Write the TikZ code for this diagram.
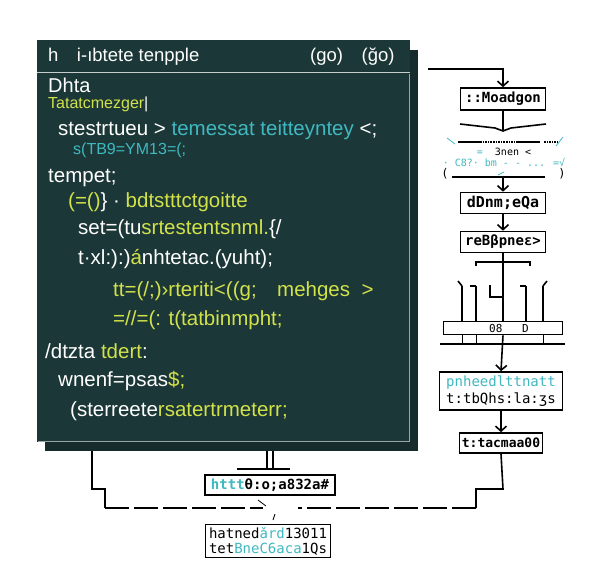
\documentclass[tikz,border=0pt]{standalone}
\usepackage{fontspec}
\setmainfont{DejaVu Sans}
\newfontfamily\codefont{Liberation Sans}
\newfontfamily\boxfont{DejaVu Sans Mono}
\usetikzlibrary{calc,arrows.meta}

\definecolor{panel}{HTML}{1C3737}
\definecolor{lime}{HTML}{D2E24A}
\definecolor{aqua}{HTML}{3FB8C0}

\newcommand{\lm}[1]{\textcolor{lime}{#1}}
\newcommand{\aq}[1]{\textcolor{aqua}{#1}}

\tikzset{
	code/.style={anchor=west, text=white, inner sep=0pt, font=\codefont\fontsize{20.5}{23}\selectfont},
	small/.style={font=\codefont\fontsize{16}{18}\selectfont},
	big/.style={font=\codefont\fontsize{18.5}{22}\selectfont},
	flowbox/.style={draw, line width=1.6pt, fill=white, inner sep=2pt, font=\boxfont\bfseries\fontsize{14}{15}\selectfont},
	flowline/.style={line width=1.6pt},
	flowarrow/.style={line width=1.6pt, -{Straight Barb[length=5pt,width=11pt,line width=1.6pt]}},
	joinline/.style={line width=1.8pt, dash pattern=on 24pt off 5pt}
}

\begin{document}
\begin{tikzpicture}[x=1pt,y=-1pt]

	\useasboundingbox (0,0) rectangle (614,578);

	% editor window
	\fill[panel!80!black] (45,50) rectangle (418,451);
	\node[fill=panel, minimum width=373pt, minimum height=402pt, inner sep=0pt] (panel) at (223.5,241) {};
	\draw[white!75!panel, line width=1pt] (37,73) -- (410,73);
	\draw[white!55!panel] (38,441) -- (409,441) -- (409,74);

	\node[code, big] (title) at (48,57) {h\quad i-ıbtete tenpple};
	\node[code, big] (tabs) at (310,57) {(go)\quad(ğo)};

	\node[code, font=\codefont\fontsize{20}{22}\selectfont] (l1) at (48,85) {Dhta};
	\node[code, small] (l2) at (48,104) {\lm{Tatatcmezger}|};
	\node[code] (l3) at (58,130) {stestrtueu > \aq{temessat teitteyntey} <;};
	\node[code, small] (l4) at (73,150) {\aq{s(TB9=YM13=(;}};
	\node[code] (l5) at (48,178) {tempet;};
	\node[code] (l6) at (68,202) {\lm{(=()}\} · \lm{bdtstttctgoitte}};
	\node[code] (l7) at (78,229) {set=(tu\lm{srtestentsnml.}\{/};
	\node[code] (l8) at (78,259) {t·xl:):)\lm{á}nhtetac.(yuht);};
	\node[code] (l9) at (113,291) {\lm{tt=(/;)›rteriti<((g;\quad mehges\ \ >}};
	\node[code] (l10) at (113,320) {\lm{=//=(: t(tatbinmpht;}};
	\node[code] (l11) at (45,351) {/dtzta \lm{tdert}:};
	\node[code] (l12) at (58,381) {wnenf=psas\lm{\$;}};
	\node[code] (l13) at (70,411) {(sterreete\lm{rsatertrmeterr;}};

	% flow on the right
	\node[flowbox, minimum width=85pt, minimum height=22pt] (moad) at (503,99) {::Moadgon};
	\coordinate (out) at (428,69);
	\draw[flowarrow] (out) -| (moad.north);

	\coordinate (brace) at (503,131);
	\draw[flowline] (moad.south) -- (brace);
	\draw[flowline] (460,124) -- (495,128) -- (brace) -- (511,128) -- (546,124);

	\draw[aqua, thick] (447,138) -- (455,144);
	\draw[flowline] (458,142) -- (480,142);
	\draw[flowline, densely dotted] (480,142) -- (516,142);
	\draw[flowline] (516,142) -- (540,142);
	\draw[flowline, densely dotted] (544,142) -- (558,142);
	\draw[aqua, thick] (556,146) -- (563,137);

	\node[inner sep=0pt, align=center, font=\boxfont\fontsize{10}{11}\selectfont] (cond) at (504,157) {\aq{=}\ \ 3nen <\\\aq{· C8?· bm - - ... =√}};
	\node[inner sep=0pt, font=\boxfont\fontsize{12}{12}\selectfont] (lpar) at (445,174) {(};
	\node[inner sep=0pt, font=\boxfont\fontsize{12}{12}\selectfont] (rpar) at (562,174) {)};
	\coordinate (condbot) at (503,177);
	\draw[flowline] (452,177) -- (545,177);
	\draw[aqua, thick] (498,175) -- (504,172);

	\node[flowbox, minimum width=85pt, minimum height=21pt, font=\boxfont\bfseries\fontsize{15}{15}\selectfont] (dnm) at (503,203) {dDnm;eQa};
	\node[flowbox, minimum width=85pt, minimum height=21pt] (resp) at (503,242) {reBβpneε>};
	\draw[flowarrow] (condbot) -- (dnm.north);
	\draw[flowarrow] (dnm.south) -- (resp.north);

	\node[draw, line width=1.6pt, fill=white, minimum width=119pt, minimum height=13pt, inner sep=0pt, font=\boxfont\fontsize{11}{11}\selectfont] (bus) at (503,328) {\hspace{12pt}08\ \ \ D};
	\draw[flowline] (resp.south) -- (503,262);
	\draw[flowline] (476,266) -- (476,262) -- (530,262) -- (530,266);
	\draw[flowline] (503,262) -- (bus.north);
	\foreach \x in {462,476,526,543}
		\draw[flowline] (\x,286) -- (\x,321);
	\draw[flowline] (462,286) -- (458,281);
	\draw[flowline] (476,286) -- (470,286);
	\draw[flowline] (490,285) -- (490,297) -- (503,297);
	\draw[flowline] (526,286) -- (520,286);
	\draw[flowline] (543,286) -- (547,281);
	\foreach \x in {462,476,543}
		\draw[thick] (\x,335) -- (\x,343);
	\draw[flowline] (440,344) -- (565,344);

	\node[flowbox, minimum width=123pt, minimum height=38pt, align=left, font=\boxfont\fontsize{14}{17}\selectfont] (ph) at (501,391) {\aq{pnheedlttnatt}\\t:tbQhs:la:ʒs};
	\draw[flowarrow] (bus.south) -- (ph.north);

	\node[flowbox, minimum width=83pt, minimum height=20pt, font=\boxfont\bfseries\fontsize{13}{14}\selectfont] (tac) at (501,443) {t:tacmaa00};
	\draw[flowarrow] (ph.south) -- (tac.north);

	% bottom
	\node[flowbox, minimum width=130pt, minimum height=20pt] (http) at (270,485) {\aq{httt}θ:o;a832a\#};
	\node[flowbox, minimum width=125pt, minimum height=33pt, align=left, font=\boxfont\fontsize{14}{15}\selectfont] (hat) at (268,541) {hatned\aq{ǎrd}13011\\tet\aq{BneC6aca}1Qs};

	\coordinate (tee) at (270,469);
	\draw[flowline] (267,451) -- (267,469);
	\draw[flowline] (273,451) -- (273,469);
	\draw[flowline] (237,469) -- (290,469);

	\coordinate (join) at (270,508);
	\coordinate (joinL) at (263,508);
	\coordinate (joinR) at (298,508);
	\draw[thick] (258,500) -- (266,506);
	\draw[thick] (275,514) -- (273,520);

	\coordinate (lstart) at (92,451);
	\draw[flowline] (lstart) -- (92,489) -- (105,489) -- (105,508);
	\draw[joinline] (105,508) -- (joinL);
	\draw[flowline] (tac.south) -- (503,489) -- (476,489) -- (476,508);
	\draw[joinline] (476,508) -- (joinR);

\end{tikzpicture}
\end{document}
